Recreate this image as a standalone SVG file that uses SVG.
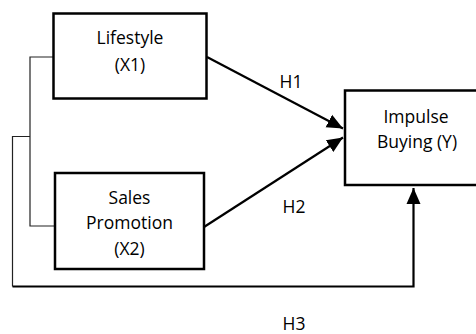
<svg xmlns="http://www.w3.org/2000/svg" width="476" height="334" viewBox="0 0 476 334">
<style>
.box{fill:#fff;stroke:#000;stroke-width:2.5}
.t{font-family:"Open Sans","Liberation Sans",sans-serif;font-size:17.5px;fill:#000;text-anchor:middle}
.thin{fill:none;stroke:#222;stroke-width:1.2}
.arr{fill:none;stroke:#000;stroke-width:2.2}
</style>
<defs>
<marker id="ah" markerUnits="userSpaceOnUse" markerWidth="16" markerHeight="16" viewBox="0 0 16 16" refX="16" refY="8" orient="auto">
<path d="M0,1 L16,8 L0,15 Z" fill="#000"/>
</marker>
</defs>
<g id="connectors">
<polyline class="thin" points="53,57 30,57 30,226 55,226"/>
<polyline class="thin" points="30,136.5 12.5,136.5 12.5,286.5"/>
<polyline class="arr" points="12.5,286.5 413.5,286.5 413.5,188" marker-end="url(#ah)"/>
<line class="arr" x1="207" y1="57" x2="343" y2="128.5" marker-end="url(#ah)"/>
<line class="arr" x1="204" y1="227" x2="343" y2="137.5" marker-end="url(#ah)"/>
<text class="t" x="291" y="88">H1</text>
<text class="t" x="294" y="213">H2</text>
<text class="t" x="294" y="330">H3</text>
</g>
<g id="lifestyle">
<rect class="box" x="53.5" y="13.5" width="153" height="85"/>
<text class="t" x="130" y="44">Lifestyle</text>
<text class="t" x="130" y="71">(X1)</text>
</g>
<g id="sales">
<rect class="box" x="55" y="173" width="149" height="96"/>
<text class="t" x="129.5" y="204">Sales</text>
<text class="t" x="129.5" y="229">Promotion</text>
<text class="t" x="129.5" y="255">(X2)</text>
</g>
<g id="impulse">
<rect class="box" x="345" y="90.5" width="140" height="94.5"/>
<text class="t" x="416" y="123">Impulse</text>
<text class="t" x="417" y="148">Buying (Y)</text>
</g>
</svg>
